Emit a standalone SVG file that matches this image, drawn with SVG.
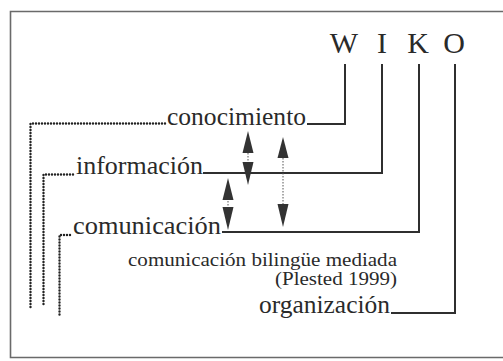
<svg xmlns="http://www.w3.org/2000/svg" width="503" height="361" viewBox="0 0 503 361">
<defs>
<style>
.frame{fill:none;stroke:#6a6a6a;stroke-width:1.6}
.solid{fill:none;stroke:#2f2f2f;stroke-width:2}
.dot{fill:none;stroke:#222;stroke-width:2.4;stroke-linecap:round;stroke-dasharray:0 3}
.shaft{fill:none;stroke:#555;stroke-width:1;stroke-dasharray:1.5 1.5}
.head{fill:#333}
.t{font-family:"Liberation Serif","Times New Roman",serif;fill:#2a2a2a}
.big{font-size:25px}
.small{font-size:19px}
.wiko{font-size:30px;text-anchor:middle}
</style>
</defs>
<rect x="0" y="0" width="503" height="361" fill="#fff"/>
<path class="frame" d="M510,11.5 H10.5 V357.5 H510"/>
<g id="wiko">
<text class="t wiko" x="344" y="53">W</text>
<text class="t wiko" x="382" y="53">I</text>
<text class="t wiko" x="418" y="53">K</text>
<text class="t wiko" x="454" y="53">O</text>
</g>
<g id="conocimiento"><text class="t big" x="167" y="125" textLength="139" lengthAdjust="spacingAndGlyphs">conocimiento</text></g>
<g id="informacion"><text class="t big" x="76" y="174" textLength="127" lengthAdjust="spacingAndGlyphs">información</text></g>
<g id="comunicacion"><text class="t big" x="73" y="234" textLength="148" lengthAdjust="spacingAndGlyphs">comunicación</text></g>
<g id="bilingue">
<text class="t small" x="128" y="266" textLength="269" lengthAdjust="spacingAndGlyphs">comunicación bilingüe mediada</text>
<text class="t small" x="275" y="285" textLength="122" lengthAdjust="spacingAndGlyphs">(Plested 1999)</text>
</g>
<g id="organizacion"><text class="t big" x="259" y="313" textLength="131" lengthAdjust="spacingAndGlyphs">organización</text></g>
<g id="connectors">
<path class="solid" d="M345,64 V124 H307"/>
<path class="solid" d="M382,64 V173 H203"/>
<path class="solid" d="M419,64 V232 H222"/>
<path class="solid" d="M455,64 V313 H391"/>
<path class="dot" d="M165,123.5 H30.5 V310"/>
<path class="dot" d="M73,174.5 H43.5 V305"/>
<path class="dot" d="M70,235 H59.5 V315"/>
<path class="shaft" d="M248,150 V165"/>
<polygon class="head" points="248,131 253.5,153 242.5,153"/>
<polygon class="head" points="248,185 253.5,162 242.5,162"/>
<path class="shaft" d="M283,155 V205"/>
<polygon class="head" points="283,137 288.5,158 277.5,158"/>
<polygon class="head" points="283,227 288.5,204 277.5,204"/>
<path class="shaft" d="M228,198 V210"/>
<polygon class="head" points="228,178 233.5,200 222.5,200"/>
<polygon class="head" points="228,230 233.5,207 222.5,207"/>
</g>
</svg>
